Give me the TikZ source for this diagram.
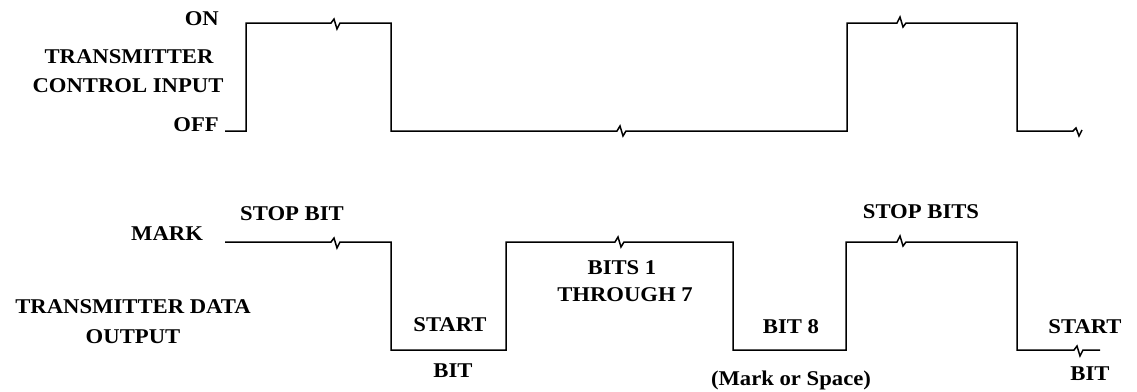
\documentclass[tikz,border=0pt]{standalone}
\usepackage{fontspec}
\setmainfont{Liberation Serif}[FakeStretch=1.08]
\begin{document}
\begin{tikzpicture}[x=1pt,y=-1pt,
  lbl/.style={font=\bfseries\fontsize{21}{24}\selectfont, inner sep=0pt, anchor=base},
  lble/.style={lbl, anchor=base east},
  wave/.style={line width=1.5pt, line join=miter}]
\useasboundingbox (0,0) rectangle (1137,391);
% top waveform: transmitter control input
\draw[wave] (225,131) -- (246,131) -- (246,23) -- (331,23) -- ++(3,-4) -- ++(3,10) -- ++(3,-6)
  -- (391,23) -- (391,131) -- (617,131) -- ++(3,-5) -- ++(3,10) -- ++(3,-5)
  -- (847,131) -- (847,23) -- (897,23) -- ++(3,-6) -- ++(3,10) -- ++(3,-4)
  -- (1017,23) -- (1017,131) -- (1073,131) -- ++(3,-3) -- ++(3,8) -- ++(3,-6);
% bottom waveform: transmitter data output
\draw[wave] (225,242) -- (331,242) -- ++(3,-4) -- ++(3,10) -- ++(3,-6)
  -- (391,242) -- (391,350) -- (506,350) -- (506,242) -- (615,242) -- ++(3,-5) -- ++(3,10) -- ++(3,-5)
  -- (733,242) -- (733,350) -- (846,350) -- (846,242) -- (897,242) -- ++(3,-6) -- ++(3,10) -- ++(3,-4)
  -- (1017,242) -- (1017,350) -- (1074,350) -- ++(3,-4) -- ++(3,10) -- ++(3,-6) -- (1100,350);
% labels
\node[lble] (on) at (219,25) {ON};
\node[lbl] (tx1) at (129,63) {TRANSMITTER};
\node[lbl] (tx2) at (128,92) {CONTROL INPUT};
\node[lble] (off) at (219,131) {OFF};
\node[lbl] (stop1) at (292,220) {STOP BIT};
\node[lbl] (mark) at (167,240) {MARK};
\node[lbl] (td1) at (133,313) {TRANSMITTER DATA};
\node[lbl] (td2) at (133,343) {OUTPUT};
\node[lbl] (st1) at (450,331) {START};
\node[lbl] (bit1) at (453,377) {BIT};
\node[lbl] (b17a) at (622,274) {BITS 1};
\node[lbl] (b17b) at (625,301) {THROUGH 7};
\node[lbl] (b8) at (791,333) {BIT 8};
\node[lbl] (ms) at (791,385) {(Mark or Space)};
\node[lbl] (stop2) at (921,218) {STOP BITS};
\node[lbl] (st2) at (1085,333) {START};
\node[lbl] (bit2) at (1090,380) {BIT};
\end{tikzpicture}
\end{document}
